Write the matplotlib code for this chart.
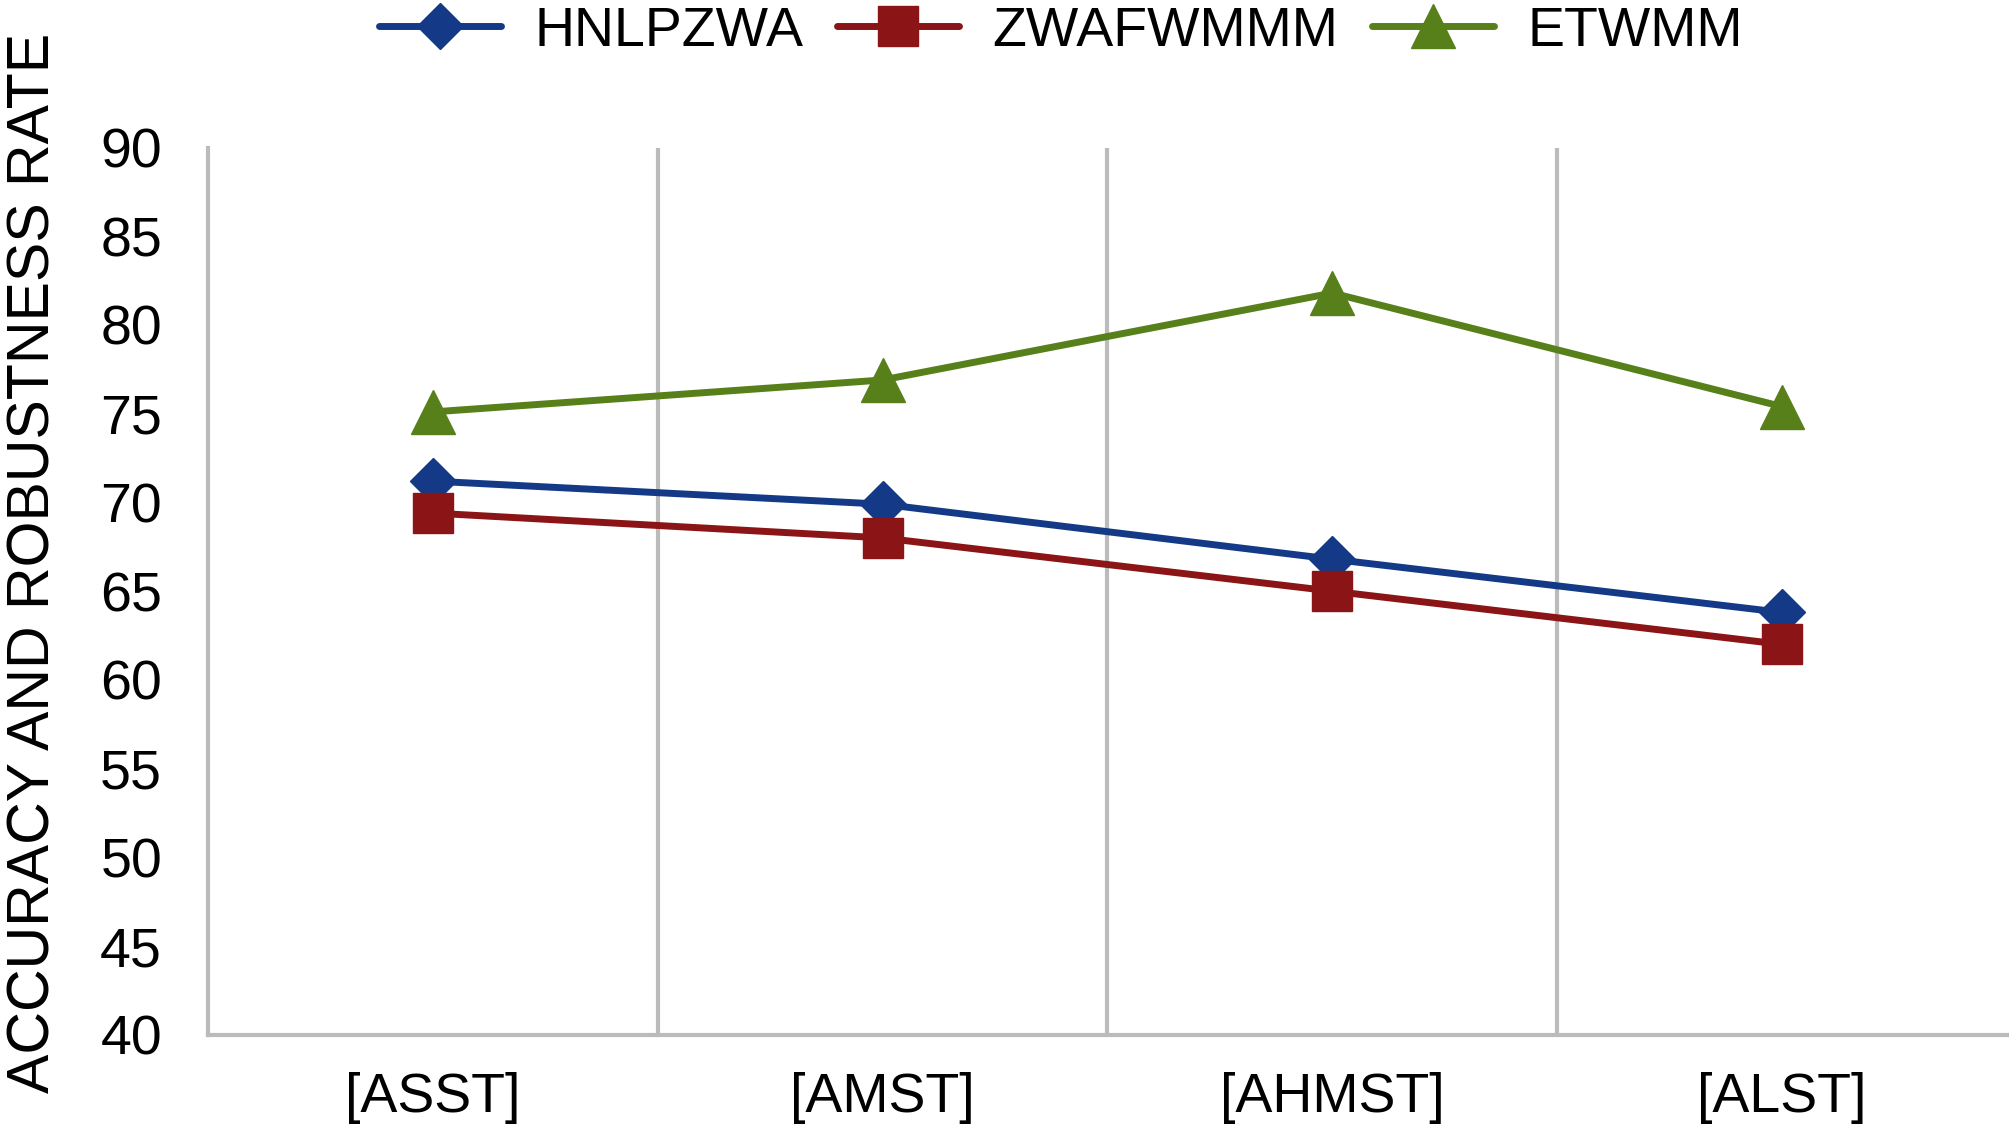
import matplotlib
matplotlib.use("Agg")
import matplotlib.pyplot as plt

plt.rcParams['font.family'] = ['Liberation Sans', 'DejaVu Sans']

categories = ["[ASST]", "[AMST]", "[AHMST]", "[ALST]"]
hnlpzwa = [71.2, 69.9, 66.8, 63.8]
zwafwmmm = [69.4, 68.0, 65.0, 62.0]
etwmm = [75.1, 76.9, 81.8, 75.4]

series_names = ["HNLPZWA", "ZWAFWMMM", "ETWMM"]
colors = ["#143A87", "#8B1516", "#58801A"]
markers = ["D", "s", "^"]

fig = plt.figure(figsize=(20.09, 11.26), dpi=100)
ax = fig.add_axes([0.1035, 0.081, 0.8955, 0.788])

x = list(range(len(categories)))
for vals, name, c, m, ms in zip([hnlpzwa, zwafwmmm, etwmm], series_names, colors, markers,
                                [23, 29, 31]):
    ax.plot(x, vals, color=c, marker=m, markersize=ms, linewidth=5, label=name,
            solid_capstyle='round')

ax.set_xlim(-0.5, 3.5)
ax.set_ylim(40, 90)
ax.set_yticks(range(40, 91, 5))
ax.set_xticks(x)
ax.set_xticklabels(categories)

# vertical separators between categories
for b in [0.5, 1.5, 2.5]:
    ax.axvline(b, color="#BBBBBB", linewidth=3, zorder=0)

for s in ["top", "right"]:
    ax.spines[s].set_visible(False)
for s in ["left", "bottom"]:
    ax.spines[s].set_color("#BBBBBB")
    ax.spines[s].set_linewidth(3)

ax.tick_params(axis='both', length=0, labelsize=40, colors="black")
ax.tick_params(axis='y', pad=33)
ax.tick_params(axis='x', pad=27)

fig.text(0.017, 0.5, "ACCURACY AND ROBUSTNESS RATE", rotation=90, fontsize=42.5,
         ha='center', va='center')

fig.legend(loc='center', bbox_to_anchor=(0.528, 0.972), ncol=3, frameon=False,
           fontsize=40, handlelength=2.2, columnspacing=0.6, handletextpad=0.6)

fig.savefig("out.png", dpi=100)
